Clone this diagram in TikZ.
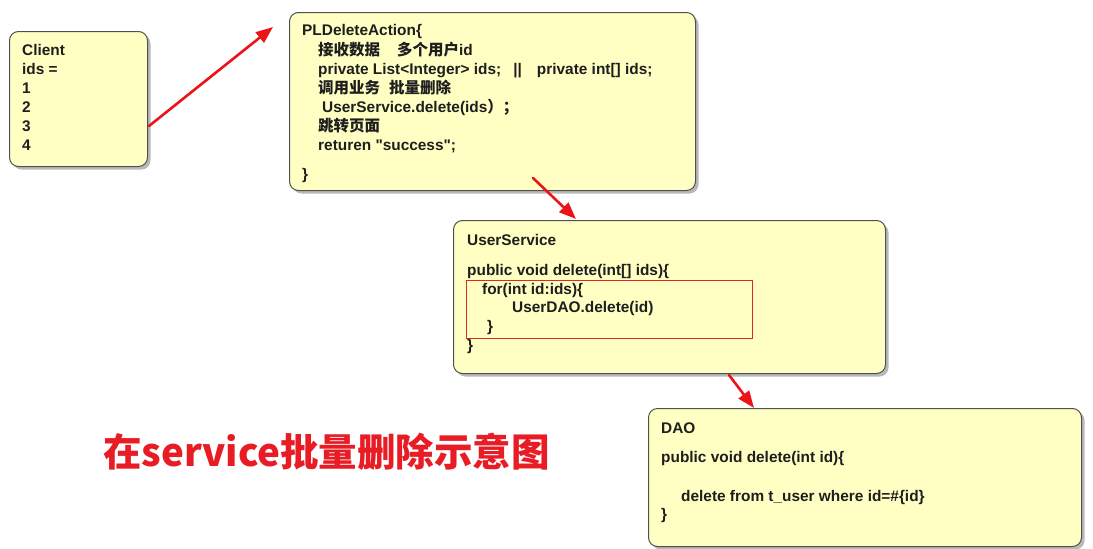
\documentclass[tikz,border=0pt]{standalone}
\usepackage{fontspec}
\usetikzlibrary{arrows.meta,shadows}
\newfontfamily\boxfont{Liberation Sans}
\newfontfamily\cjk{Noto Sans CJK SC}
\newfontfamily\titlefont{Noto Sans CJK SC}
\definecolor{boxfill}{RGB}{255,255,196}
\definecolor{boxline}{RGB}{80,80,80}
\definecolor{textc}{RGB}{30,30,30}
\definecolor{arrred}{RGB}{235,20,25}
\definecolor{titlered}{RGB}{232,28,36}
\definecolor{framered}{RGB}{220,40,40}
\newcommand{\zh}[1]{{\cjk\bfseries\fontsize{15.5}{18}\selectfont #1}}
\begin{document}
\begin{tikzpicture}[x=1pt,y=-1pt,
  box/.style={draw=boxline, line width=1pt, fill=boxfill, rounded corners=9pt,
    anchor=north west, inner sep=0pt,
    drop shadow={shadow xshift=3pt, shadow yshift=-3pt, fill=black!50, opacity=0.55}},
  txt/.style={anchor=base west, inner sep=0pt, text=textc,
    font=\boxfont\bfseries\fontsize{15.4}{18}\selectfont},
  arr/.style={draw=arrred, line width=2.6pt, line cap=round,
    -{Triangle[length=17pt,width=13pt]}},
  hl/.style={draw=framered, line width=0.8pt, anchor=north west, inner sep=0pt}]
\useasboundingbox[fill=white] (0,0) rectangle (1093,549);

% boxes
\node[box, minimum width=138pt, minimum height=135pt] (client) at (9,31) {};
\node[box, minimum width=406pt, minimum height=178pt] (pl) at (289,12) {};
\node[box, minimum width=432pt, minimum height=153pt] (us) at (453,220) {};
\node[box, minimum width=433pt, minimum height=138pt] (dao) at (648,408) {};
\node[hl, minimum width=286pt, minimum height=58pt] (frame) at (466,280) {};

% Client text
\node[txt] (c1) at (22,55.5) {Client};
\node[txt] (c2) at (22,74.5) {ids =};
\node[txt] (c3) at (22,93.5) {1};
\node[txt] (c4) at (22,112.5) {2};
\node[txt] (c5) at (22,131.5) {3};
\node[txt] (c6) at (22,150.5) {4};

% PLDeleteAction text
\node[txt] (p1) at (302,35.5) {PLDeleteAction\{};
\node[txt] (p2) at (318,55.5) {\zh{接收数据}\hspace{17pt}\zh{多个用户}id};
\node[txt] (p3) at (318,74.5) {private List<Integer> ids;\hspace{12pt}||\hspace{15pt}private int[] ids;};
\node[txt] (p4) at (318,93.5) {\zh{调用业务}\hspace{9pt}\zh{批量删除}};
\node[txt] (p5) at (322,112.5) {UserService.delete(ids\zh{）；}};
\node[txt] (p6) at (318,131.5) {\zh{跳转页面}};
\node[txt] (p7) at (318,150.5) {returen "success";};
\node[txt] (p8) at (302,179.5) {\}};

% UserService text
\node[txt] (u1) at (467,245.5) {UserService};
\node[txt] (u2) at (467,275.5) {public void delete(int[] ids)\{};
\node[txt] (u3) at (482,294.5) {for(int id:ids)\{};
\node[txt] (u4) at (512,312.5) {UserDAO.delete(id)};
\node[txt] (u5) at (487,331.5) {\}};
\node[txt] (u6) at (467,350.5) {\}};

% DAO text
\node[txt] (d1) at (661,433.5) {DAO};
\node[txt] (d2) at (661,462.5) {public void delete(int id)\{};
\node[txt] (d3) at (681,501.5) {delete from t\_user where id=\#\{id\}};
\node[txt] (d4) at (661,519.5) {\}};

% title
\node[anchor=west, inner sep=0pt, text=titlered,
  font=\titlefont\bfseries\fontsize{38.5}{42}\selectfont] (title) at (103,452)
  {在service批量删除示意图};

% arrows
\coordinate (a1s) at (149,126);
\coordinate (a1e) at (273,27);
\coordinate (a2s) at (533,178);
\coordinate (a2e) at (576,219);
\coordinate (a3s) at (729,375);
\coordinate (a3e) at (754,408);
\draw[arr] (a1s) -- (a1e);
\draw[arr] (a2s) -- (a2e);
\draw[arr] (a3s) -- (a3e);
\end{tikzpicture}
\end{document}
